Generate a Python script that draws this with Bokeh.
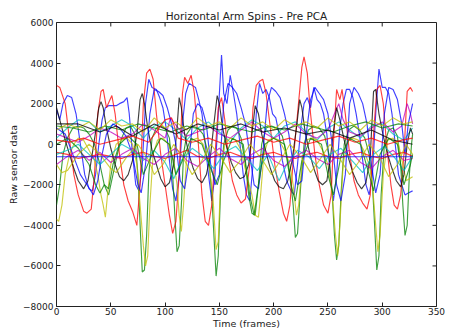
from bokeh.plotting import figure
from bokeh.models import Range1d, FixedTicker
from bokeh.embed import file_html
from bokeh.resources import INLINE

title_text = "Horizontal Arm Spins - Pre PCA"
x_label = "Time (frames)"
y_label = "Raw sensor data"
x_ticks = [0, 50, 100, 150, 200, 250, 300, 350]
y_ticks = [-8000, -6000, -4000, -2000, 0, 2000, 4000, 6000]

# (frame, value) pairs
blue_a = [(0,1700),(3,1200),(6,2000),(10,2400),(14,2300),(18,1500),(22,0),(26,-1500),(30,-2200),(33,-2300),(36,-1500),(39,0),(42,1200),(45,1800),(48,1900),(51,1900),(55,1900),(58,2000),(62,2100),(65,2300),(67,1500),(70,-500),(73,-2000),(76,-2300),(79,-1000),(82,2000),(85,3200),(88,2800),(92,2700),(95,2300),(98,1800),(101,800),(104,-800),(107,-2200),(110,-2800),(113,-1500),(116,1000),(119,2500),(122,3000),(125,2900),(128,2800),(131,2200),(134,1500),(137,0),(140,-1500),(143,-2800),(146,-1500),(149,1500),(152,4400),(154,2500),(157,2000),(160,3400),(163,2500),(166,1500),(169,0),(172,-1500),(175,-2500),(178,-2800),(181,-1000),(184,1500),(187,3000),(190,2500),(193,2700),(196,2300),(199,1500),(202,1300),(205,500),(208,-800),(212,-1800),(216,-2300),(219,-2500),(222,-1000),(225,800),(228,2000),(231,2300),(234,1800),(237,2800),(240,2200),(243,2000),(246,1500),(249,500),(252,-1500),(255,-2800),(258,-1500),(261,800),(264,2000),(267,2700),(270,2700),(273,2300),(276,1500),(279,500),(282,-800),(285,-2000),(288,-2500),(291,-1500),(294,1500),(297,3700),(300,2800),(303,2800),(306,2500),(309,1500),(312,0),(315,-1500),(318,-2000),(321,-2500),(324,-2400),(328,-2300)]

green_a = [(0,-3000),(3,-2000),(6,-500),(10,300),(15,800),(20,900),(25,800),(30,500),(35,0),(40,-1000),(44,-2000),(48,-2500),(52,-1500),(56,-500),(60,300),(64,800),(68,900),(72,500),(75,-1500),(77,-4000),(79,-6300),(81,-6200),(83,-4500),(85,-1500),(88,300),(92,800),(96,900),(100,800),(104,300),(107,-1500),(109,-3500),(111,-5300),(113,-5000),(115,-3000),(117,-500),(120,500),(125,900),(130,800),(135,500),(140,-500),(143,-2500),(145,-4500),(147,-6500),(149,-5500),(151,-2500),(154,0),(158,700),(162,900),(166,800),(170,300),(174,-1000),(177,-2500),(180,-3400),(183,-3500),(186,-2000),(189,0),(193,800),(198,900),(203,800),(208,400),(212,-500),(215,-1500),(218,-3000),(220,-4600),(222,-4400),(225,-2000),(228,0),(232,700),(237,900),(242,800),(247,400),(251,-500),(254,-2500),(256,-4500),(258,-5700),(260,-5000),(262,-2500),(265,0),(269,700),(274,900),(279,700),(284,300),(288,-500),(291,-2000),(293,-4000),(295,-6200),(297,-5500),(299,-2500),(302,0),(306,700),(310,800),(314,400),(317,-1000),(319,-3000),(321,-4500),(323,-4000),(325,-1500),(327,0),(328,500)]

red_a = [(0,2900),(3,2800),(8,2000),(12,200),(16,-1500),(20,-2500),(25,-3300),(28,-3400),(32,-3200),(35,-1500),(38,1500),(41,2600),(43,2700),(46,1800),(51,2400),(54,1500),(58,-500),(62,-2000),(66,-2800),(70,-3300),(74,-4000),(77,-2000),(80,2000),(83,3500),(86,3700),(89,3200),(92,1500),(96,-500),(100,-2000),(104,-3500),(107,-4400),(110,-3800),(113,-1500),(116,2500),(118,3300),(121,3000),(124,3400),(127,2500),(130,500),(134,-2500),(137,-3800),(140,-4000),(143,-3000),(146,-500),(149,1800),(152,2300),(155,1200),(158,-500),(162,-1800),(166,-2500),(170,-2900),(174,-2700),(178,-1000),(181,1800),(184,2900),(187,3100),(190,3200),(193,2500),(197,800),(201,-1000),(205,-2300),(209,-3400),(212,-3800),(215,-3000),(218,-800),(222,1500),(226,3800),(228,4300),(231,3500),(234,1500),(238,-500),(242,-2000),(246,-3000),(250,-3400),(253,-2500),(255,0),(258,2700),(261,2200),(263,2700),(266,1500),(270,-500),(274,-1800),(278,-2500),(282,-2900),(286,-3200),(289,-2500),(292,500),(295,2700),(298,2900),(301,2000),(304,0),(308,-2000),(311,-3000),(314,-3200),(317,-2500),(320,-500),(323,2600),(326,2800),(328,2600)]

cyan_a = [(0,300),(10,800),(20,1200),(30,1100),(40,600),(50,900),(60,1200),(70,900),(80,300),(90,900),(100,1100),(110,700),(120,200),(130,800),(140,1100),(150,600),(160,100),(170,800),(180,1200),(190,900),(200,300),(210,900),(220,1100),(230,600),(240,200),(250,800),(260,1100),(270,700),(280,300),(290,900),(300,1000),(310,500),(320,200),(328,800)]

magenta_a = [(0,500),(10,300),(20,100),(30,400),(40,800),(50,600),(60,300),(70,500),(80,1000),(90,700),(100,300),(105,1300),(112,800),(120,400),(130,600),(140,900),(150,500),(160,300),(170,700),(180,1100),(190,600),(200,300),(210,600),(220,1000),(230,500),(240,300),(250,700),(256,1500),(260,2000),(264,1200),(270,600),(280,400),(290,800),(300,1100),(310,600),(318,900),(323,2000),(326,1500),(328,1000)]

yellow_a = [(0,-3700),(2,-3800),(5,-3000),(8,-1500),(12,-500),(16,0),(20,300),(25,200),(30,-300),(35,-800),(38,-1500),(41,-2500),(43,-3000),(45,-3600),(47,-2500),(50,-1000),(55,0),(60,200),(65,300),(70,0),(74,-1000),(77,-3000),(80,-5000),(82,-6000),(84,-5500),(86,-3000),(89,-500),(93,200),(98,300),(103,0),(108,-800),(111,-2000),(113,-3500),(115,-4300),(117,-3000),(120,-500),(125,200),(130,300),(135,0),(140,-800),(144,-2500),(147,-5200),(149,-4800),(151,-2000),(155,0),(160,300),(165,200),(170,-300),(175,-1500),(180,-2500),(183,-3500),(186,-3600),(188,-2500),(191,-500),(195,200),(200,300),(205,200),(210,-300),(215,-1000),(218,-2000),(221,-3500),(223,-3000),(226,-1000),(230,200),(235,300),(240,200),(245,-300),(250,-1000),(254,-2500),(257,-4500),(259,-5500),(261,-4000),(264,-1000),(268,200),(273,300),(278,200),(283,-300),(288,-1000),(291,-2000),(294,-4000),(296,-5300),(298,-4500),(301,-1500),(305,200),(310,300),(315,0),(319,-1000),(322,-1800),(325,-1700),(328,-1600)]

black_a = [(0,1800),(4,1000),(8,200),(12,-500),(16,-1200),(20,-1800),(25,-2200),(29,-1800),(32,-800),(36,600),(39,1800),(41,2100),(43,1800),(46,800),(50,-200),(54,-1000),(58,-1600),(62,-1800),(66,-1500),(70,-800),(74,500),(77,2200),(79,2500),(81,2000),(84,800),(88,-300),(92,-1000),(96,-1700),(100,-2100),(104,-1900),(108,-1000),(111,800),(113,2300),(115,1800),(118,500),(122,-500),(126,-1200),(130,-1700),(134,-1900),(138,-1500),(142,-500),(145,1000),(148,2400),(150,2000),(153,800),(157,-200),(161,-900),(165,-1400),(169,-1700),(173,-1600),(177,-1000),(180,500),(183,1900),(186,1500),(189,500),(193,-400),(197,-1200),(201,-1800),(205,-2100),(209,-2200),(213,-1800),(217,-800),(221,800),(224,2200),(226,1800),(229,600),(233,-400),(237,-1200),(241,-1800),(245,-2000),(249,-1800),(252,-800),(255,600),(258,1800),(261,1200),(265,200),(269,-700),(273,-1400),(277,-1900),(281,-2200),(285,-1900),(289,-600),(292,2600),(294,2700),(297,1500),(301,400),(305,-500),(309,-1200),(313,-1800),(317,-2100),(320,-1500),(323,0),(326,800),(328,500)]

blue_b = [(0,800),(8,500),(15,-500),(22,-1500),(28,-2000),(34,-2500),(38,-1800),(42,-500),(46,500),(52,1000),(58,800),(64,400),(70,-500),(75,-2000),(78,-2400),(82,-1000),(86,1500),(90,2700),(94,2600),(98,2400),(102,1800),(106,1000),(110,0),(114,-1800),(118,-2200),(122,-800),(126,1500),(130,2000),(134,1800),(138,1000),(142,-1000),(146,-2000),(150,-1500),(154,2000),(158,3000),(162,2800),(166,2500),(170,1800),(174,1000),(178,-500),(182,-2000),(186,-2200),(190,-500),(194,2000),(198,2800),(202,2600),(206,2300),(210,1500),(214,500),(218,-1000),(222,-2000),(226,-1800),(230,500),(234,2200),(238,2800),(242,2500),(246,2200),(250,1500),(254,0),(258,-2000),(262,-2800),(266,-1500),(270,2000),(274,2800),(278,2500),(282,2000),(286,1000),(290,-1000),(294,-2400),(298,-1500),(302,1500),(306,2800),(310,2700),(314,2200),(318,1000),(321,-500),(324,1000),(328,2000)]

green_b = [(0,900),(15,800),(30,600),(45,900),(60,700),(75,1000),(90,800),(105,600),(120,900),(135,700),(150,1000),(165,800),(180,600),(195,900),(210,700),(225,1000),(240,800),(255,600),(270,900),(285,1100),(300,800),(315,1000),(328,900)]

red_b = [(0,-400),(10,-500),(20,-700),(30,-600),(40,-500),(50,-600),(60,-700),(70,-500),(80,-400),(90,-600),(100,-700),(110,-500),(120,-300),(130,-600),(140,-700),(150,-500),(160,-400),(170,-600),(180,-700),(190,-500),(200,-400),(210,-600),(220,-700),(230,-500),(240,-400),(250,-600),(260,-700),(270,-500),(280,-400),(290,-600),(300,-700),(310,-500),(320,-400),(328,-600)]

cyan_b = [(0,-500),(10,-300),(20,0),(30,-500),(40,-1000),(50,-500),(60,0),(70,-300),(80,-800),(90,-300),(100,-900),(108,-1700),(115,-800),(125,-200),(135,-600),(145,-1200),(155,-400),(165,-100),(175,-700),(185,-1300),(195,-500),(205,-1800),(212,-1000),(222,-300),(232,-600),(242,-1200),(252,-500),(262,-200),(272,-800),(282,-1400),(292,-500),(302,-100),(312,-700),(320,-1300),(328,-600)]

magenta_b = [(0,-1000),(10,-600),(20,-300),(30,-800),(40,-400),(50,-900),(60,-500),(70,-200),(80,-700),(90,-1000),(100,-500),(110,-200),(120,-800),(130,-1100),(140,-600),(150,-200),(160,-700),(170,-1000),(180,-500),(190,-200),(200,-800),(210,-1100),(220,-600),(230,-300),(240,-700),(250,-1000),(260,-500),(270,-300),(280,-900),(290,-1200),(300,-600),(310,-300),(320,-800),(328,-700)]

yellow_b = [(0,700),(10,1000),(20,800),(30,1100),(40,700),(50,1200),(60,900),(70,1000),(80,600),(90,1300),(100,800),(110,1100),(120,700),(130,1300),(140,900),(150,1100),(160,800),(170,1300),(180,900),(190,1100),(200,700),(210,1200),(220,900),(230,1100),(240,800),(250,1300),(260,900),(270,1100),(280,700),(290,1200),(300,900),(310,1300),(320,1000),(328,1100)]

black_b = [(0,1000),(20,1000),(40,600),(55,900),(70,400),(90,1000),(110,500),(130,1000),(150,700),(170,1000),(190,600),(210,800),(230,500),(250,700),(270,300),(290,700),(310,200),(328,0)]

blue_flat = [(0,-620),(100,-620),(200,-620),(328,-620)]

green_c = [(0,0),(10,300),(20,-200),(30,-1000),(36,-2000),(40,-2400),(44,-2000),(48,-2200),(52,-1000),(58,0),(66,400),(74,0),(80,-1500),(88,-500),(96,300),(104,0),(110,-1500),(116,-800),(124,300),(134,0),(142,-1200),(148,-2000),(154,-800),(162,300),(172,0),(178,-2500),(182,-3500),(186,-2000),(192,0),(200,300),(210,0),(216,-2000),(220,-2800),(226,-800),(234,300),(244,0),(250,-1500),(255,-2500),(262,-600),(270,300),(280,0),(288,-1500),(292,-2300),(298,-500),(306,300),(314,0),(320,-2000),(326,-1000),(328,-500)]

yellow_c = [(0,-1000),(5,-1400),(10,-1300),(20,-500),(30,0),(40,-500),(50,-1200),(55,-1400),(65,-600),(75,0),(85,-800),(90,-1500),(98,-1000),(108,0),(118,-800),(125,-1500),(132,-1000),(142,0),(152,-700),(160,-1400),(168,-900),(178,0),(190,-800),(198,-1500),(205,-900),(215,0),(226,-700),(234,-1400),(242,-800),(252,0),(262,-800),(270,-1500),(278,-900),(288,0),(298,-700),(306,-1600),(314,-1000),(322,0),(328,-500)]

red_c = [(0,200),(12,100),(25,300),(40,0),(55,200),(70,400),(85,100),(100,1200),(106,1300),(112,300),(125,100),(140,300),(155,0),(170,200),(185,400),(200,100),(215,300),(230,0),(245,200),(260,400),(275,100),(290,300),(305,0),(318,200),(328,300)]

series = [blue_a, green_a, red_a, cyan_a, magenta_a, yellow_a, black_a,
          blue_b, green_b, red_b, cyan_b, magenta_b, yellow_b, black_b,
          green_c, red_c, yellow_c, blue_flat]
series_colors = ["#0000ff", "#008000", "#ff0000", "#00bfbf", "#bf00bf", "#bfbf00", "#000000",
                 "#0000ff", "#008000", "#ff0000", "#00bfbf", "#bf00bf", "#bfbf00", "#000000",
                 "#008000", "#ff0000", "#bfbf00", "#0000ff"]

FONT = "DejaVu Sans"
X0, X1, Y0, Y1 = 0, 350, -8000, 6000
FRAME_W, FRAME_H = 380, 285   # plot frame size in px
TICK_PX = 4

p = figure(width=452, height=331, x_range=Range1d(X0, X1), y_range=Range1d(Y0, Y1),
           output_backend="svg", toolbar_location=None, title=title_text,
           min_border_left=56, min_border_right=16, min_border_top=22, min_border_bottom=24,
           background_fill_color="white", border_fill_color="white")

for pts, col in zip(series, series_colors):
    xs = [a for a, b in pts]
    ys = [b for a, b in pts]
    p.line(xs, ys, line_color=col, line_width=1.15, line_alpha=0.75)

# inward ticks on top and right edges (matplotlib classic style)
tx = (X1 - X0) / FRAME_W * TICK_PX
ty = (Y1 - Y0) / FRAME_H * TICK_PX
p.segment(x0=x_ticks, y0=[Y1] * len(x_ticks), x1=x_ticks, y1=[Y1 - ty] * len(x_ticks),
          line_color="#222222", line_width=1)
p.segment(x0=[X1] * len(y_ticks), y0=y_ticks, x1=[X1 - tx] * len(y_ticks), y1=y_ticks,
          line_color="#222222", line_width=1)

p.grid.visible = False
p.outline_line_color = "#222222"
p.outline_line_width = 1

p.title.text_font = FONT
p.title.text_font_size = "10.5px"
p.title.text_font_style = "normal"
p.title.align = "center"
p.title.text_color = "#222222"
p.title.standoff = 2

for ax in (p.xaxis[0], p.yaxis[0]):
    ax.major_label_text_font = FONT
    ax.major_label_text_font_size = "9px"
    ax.major_label_text_color = "#222222"
    ax.axis_label_text_font = FONT
    ax.axis_label_text_font_size = "9.5px"
    ax.axis_label_text_font_style = "normal"
    ax.axis_label_text_color = "#222222"
    ax.axis_line_color = None
    ax.major_tick_in = TICK_PX
    ax.major_tick_out = 0
    ax.major_tick_line_color = "#222222"
    ax.minor_tick_line_color = None

p.xaxis[0].ticker = FixedTicker(ticks=x_ticks)
p.yaxis[0].ticker = FixedTicker(ticks=y_ticks)
p.xaxis[0].axis_label = x_label
p.yaxis[0].axis_label = y_label
p.xaxis[0].major_label_standoff = 1
p.xaxis[0].axis_label_standoff = 0
p.yaxis[0].major_label_standoff = 3
p.yaxis[0].axis_label_standoff = 1

open("out.html", "w").write(file_html(p, INLINE))
